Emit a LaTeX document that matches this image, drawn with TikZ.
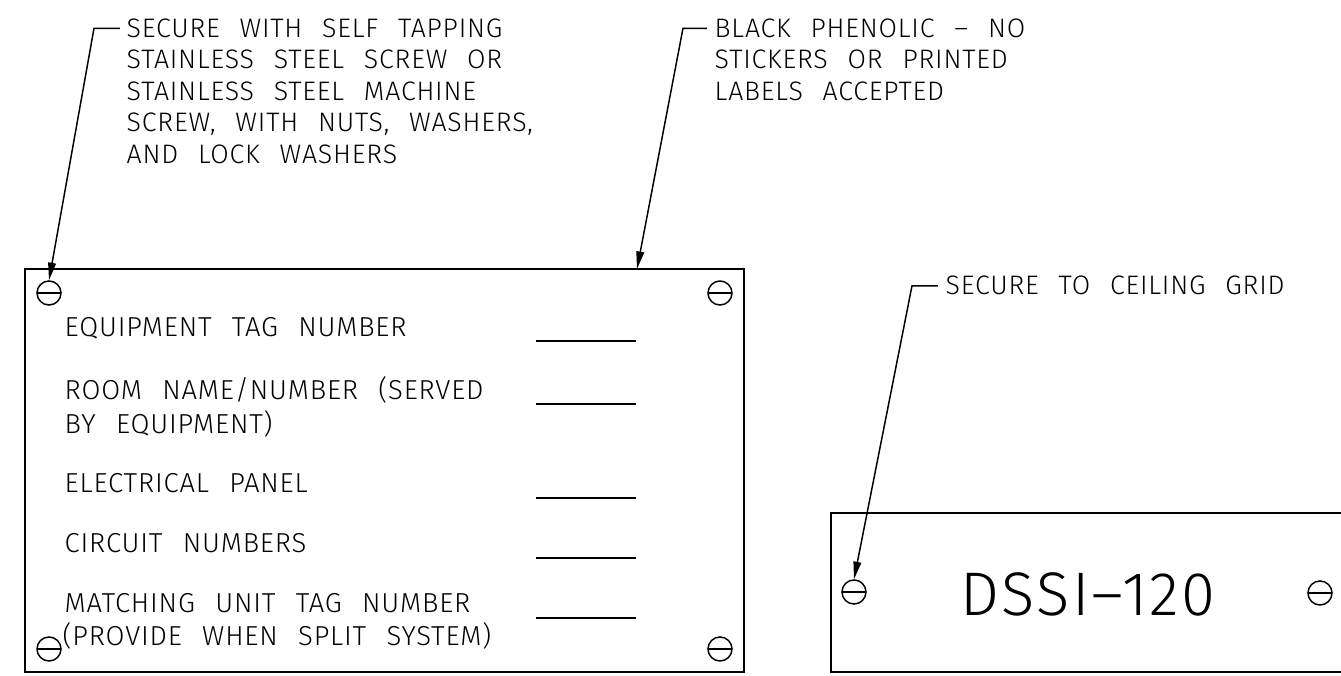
\documentclass[tikz,border=0pt]{standalone}
\usepackage{fontspec}
\setmainfont{Fira Sans Light}[LetterSpace=3,WordSpace=2.4]
\usetikzlibrary{arrows.meta}

\begin{document}
\begin{tikzpicture}[x=0.01cm,y=-0.01cm,line width=.42pt,
  note/.style={anchor=base west,inner sep=0pt,font=\fontsize{7.6}{8}\selectfont},
  label/.style={anchor=base west,inner sep=0pt,font=\fontsize{7.8}{8}\selectfont},
  screw/.style={circle,draw,minimum size=.24cm,inner sep=0pt,
    path picture={\draw (path picture bounding box.west) -- (path picture bounding box.east);}},
  leader/.style={-{Triangle[length=5pt,width=2.2pt]}}]
\useasboundingbox (0,0) rectangle (1341,676);
% tag plate
\draw (25,269) rectangle (744,672);
\node[screw] (s1) at (49,293) {};
\node[screw] (s2) at (720,293) {};
\node[screw] (s3) at (49,649) {};
\node[screw] (s4) at (720,649) {};
\coordinate (platetop) at (637,269);
\node[label] (equip) at (64,337) {EQUIPMENT TAG NUMBER};
\draw (536,341) -- (636,341);
\node[label] (room) at (64,400) {ROOM NAME/NUMBER (SERVED};
\node[label] (roomb) at (64,434) {BY EQUIPMENT)};
\draw (536,404) -- (636,404);
\node[label] (panel) at (64,493) {ELECTRICAL PANEL};
\draw (536,498) -- (636,498);
\node[label] (circ) at (64,553) {CIRCUIT NUMBERS};
\draw (536,558) -- (636,558);
\node[label] (match) at (64,613) {MATCHING UNIT TAG NUMBER};
\node[label] (matchb) at (62,646) {(PROVIDE WHEN SPLIT SYSTEM)};
\draw (536,618) -- (636,618);
% ceiling tag
\draw (1345,513) -- (831,513) -- (831,672) -- (1345,672);
\node[screw] (s5) at (854,592) {};
\node[screw] (s6) at (1320,593) {};
\node[inner sep=0pt,font=\fontsize{17.5}{20}\selectfont\addfontfeatures{LetterSpace=4}] (tagno) at (1088,594) {DSSI--120};
% notes
\node[note] (n1a) at (126,37.5) {SECURE WITH SELF TAPPING};
\node[note] (n1b) at (126,69) {STAINLESS STEEL SCREW OR};
\node[note] (n1c) at (126,100.5) {STAINLESS STEEL MACHINE};
\node[note] (n1d) at (126,132) {SCREW, WITH NUTS, WASHERS,};
\node[note] (n1e) at (126,163.5) {AND LOCK WASHERS};
\draw[leader] ([xshift=-.06cm]n1a.west) -- ++(-26,0) -- (s1.north);
\node[note] (n2a) at (714,37.5) {BLACK PHENOLIC -- NO};
\node[note] (n2b) at (714,69) {STICKERS OR PRINTED};
\node[note] (n2c) at (714,100.5) {LABELS ACCEPTED};
\draw[leader] ([xshift=-.07cm]n2a.west) -- ++(-24,0) -- (platetop);
\node[note] (n3) at (945,295) {SECURE TO CEILING GRID};
\draw[leader] ([xshift=-.07cm]n3.west) -- ++(-26,0) -- (s5.north);
\end{tikzpicture}
\end{document}
